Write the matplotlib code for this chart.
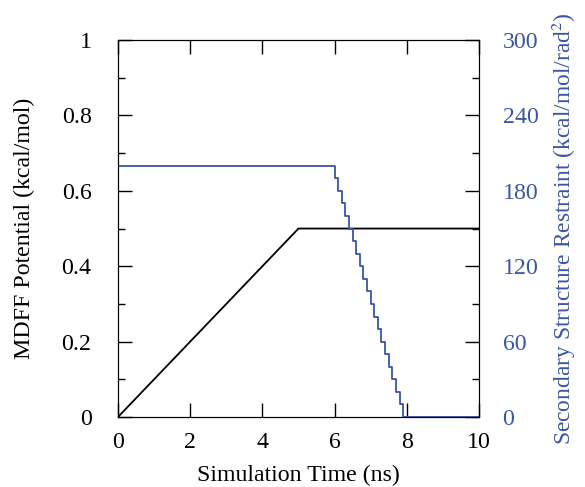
import matplotlib
matplotlib.use("Agg")
import matplotlib.pyplot as plt
from matplotlib.ticker import MultipleLocator

plt.rcParams['font.family'] = ['Liberation Serif', 'DejaVu Serif']
plt.rcParams['mathtext.fontset'] = 'stix'

# MDFF potential ramp
mdff_t = [0, 5, 10]
mdff_v = [0, 0.5, 0.5]

# secondary structure restraint, stepped down after 6 ns
ss_t = [0, 6.0, 6.1, 6.2, 6.3, 6.4, 6.5, 6.6, 6.7, 6.8, 6.9,
        7.0, 7.1, 7.2, 7.3, 7.4, 7.5, 7.6, 7.7, 7.8, 7.9, 10]
ss_v = [200, 190, 180, 170, 160, 150, 140, 130, 120, 110, 100,
        90, 80, 70, 60, 50, 40, 30, 20, 10, 0, 0]

blue = '#3a55a5'
fs = 17.2

fig = plt.figure(figsize=(5.85, 4.87), dpi=100)
ax = fig.add_axes([0.2017, 0.1437, 0.617, 0.774])
ax.plot(mdff_t, mdff_v, color='black', lw=1.3)
ax.set_xlim(0, 10)
ax.set_ylim(0, 1)
ax.set_xticks([0, 2, 4, 6, 8, 10])
ax.set_yticks([0, 0.2, 0.4, 0.6, 0.8, 1])
ax.set_yticklabels(['0', '0.2', '0.4', '0.6', '0.8', '1'])
ax.yaxis.set_minor_locator(MultipleLocator(0.1))
ax.tick_params(which='major', direction='in', length=10, width=1, top=True)
ax.tick_params(which='minor', direction='in', length=5, width=1)
ax.tick_params(axis='x', labelsize=fs, pad=11)
ax.tick_params(axis='y', labelsize=fs, pad=19)
ax.set_xlabel('Simulation Time (ns)', fontsize=fs, labelpad=8)
ax.set_ylabel('MDFF Potential (kcal/mol)', fontsize=fs, labelpad=19)

ax2 = ax.twinx()
ax2.step(ss_t, ss_v, where='post', color=blue, lw=1.3)
ax2.set_ylim(0, 300)
ax2.set_yticks([0, 60, 120, 180, 240, 300])
ax2.yaxis.set_minor_locator(MultipleLocator(30))
ax2.tick_params(which='major', direction='in', length=10, width=1,
                labelsize=fs, labelcolor=blue, pad=17)
ax2.tick_params(which='minor', direction='in', length=5, width=1)
ax2.set_ylabel('Secondary Structure Restraint (kcal/mol/rad$^2$)',
               fontsize=16.9, color=blue, labelpad=8)

fig.savefig('out.png', dpi=100)
